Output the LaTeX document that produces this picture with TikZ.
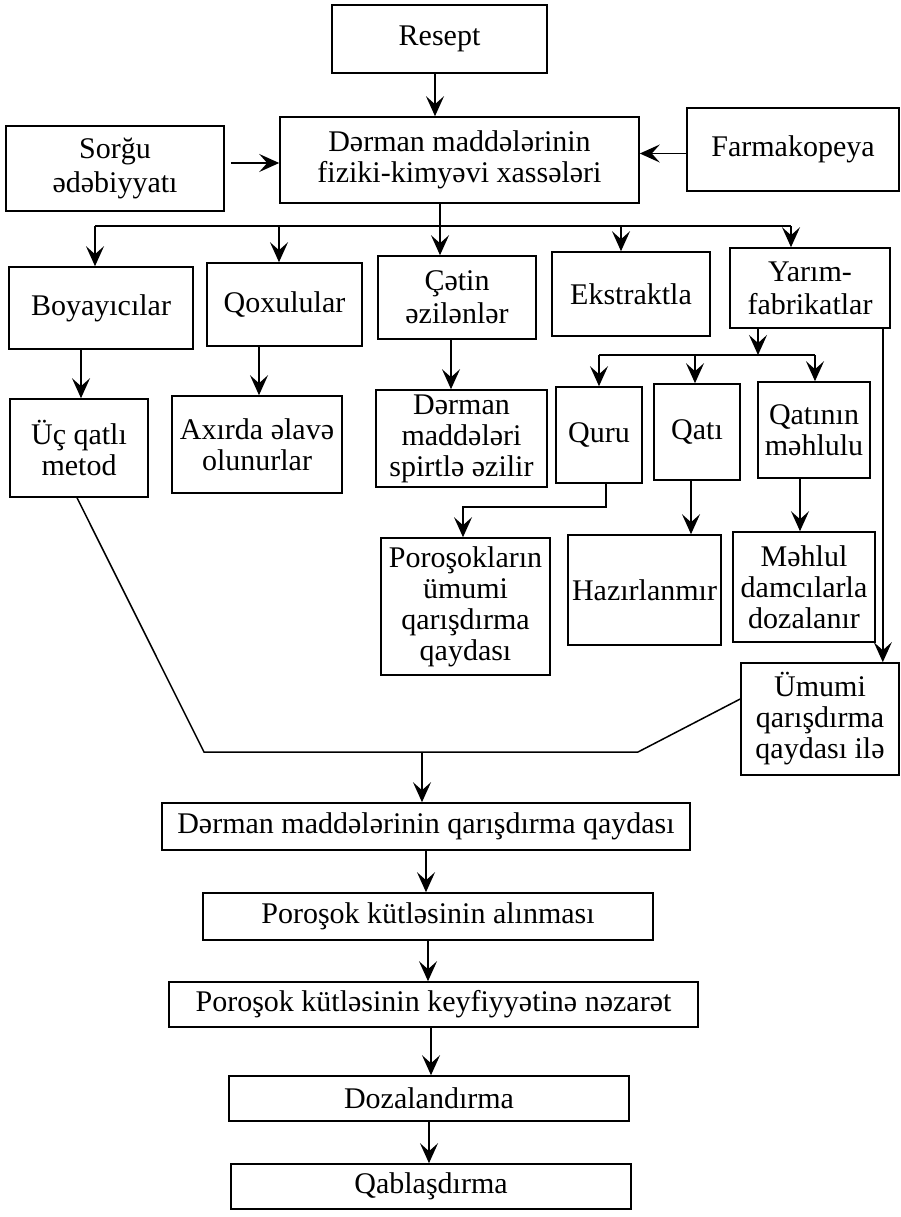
\documentclass[tikz,border=0pt]{standalone}
\usepackage{fontspec}
\setmainfont{Liberation Serif}
\usetikzlibrary{arrows.meta}
\begin{document}
\begin{tikzpicture}[x=1pt,y=-1pt,
  box/.style={draw, line width=1.6pt, align=center, inner sep=2pt, font=\fontsize{30}{31}\selectfont},
  arr/.style={draw, line width=1.5pt, -{Stealth[length=20pt,width=18pt,inset=8pt]}},
  ln/.style={draw, line width=1.5pt}]
\useasboundingbox (0,0) rectangle (901,1217);
% top
\node[box, minimum width=215pt, minimum height=68pt] (resept) at (439.5,39) {Resept};
\node[box, minimum width=359pt, minimum height=86pt] (main) at (459.5,160) {Dərman maddələrinin\\fiziki-kimyəvi xassələri};
\node[box, minimum width=218pt, minimum height=85pt] (sorgu) at (115,168.5) {Sorğu\\[3pt]ədəbiyyatı};
\node[box, minimum width=212pt, minimum height=83pt] (farm) at (793,149.5) {Farmakopeya};
% row 2
\node[box, minimum width=184pt, minimum height=82pt] (boy) at (101,308) {Boyayıcılar};
\node[box, minimum width=155pt, minimum height=83pt] (qox) at (284.5,304.5) {Qoxulular};
\node[box, minimum width=158pt, minimum height=83pt] (cetin) at (457,297.5) {Çətin\\[2pt]əzilənlər};
\node[box, minimum width=158pt, minimum height=84pt] (ekst) at (631,294) {Ekstraktla};
\node[box, minimum width=160pt, minimum height=80pt] (yarim) at (810,288) {Yarım-\\[2pt]fabrikatlar};
% row 3
\node[box, minimum width=138pt, minimum height=98pt] (uc) at (79,448) {Üç qatlı\\metod};
\node[box, minimum width=170pt, minimum height=97pt] (axr) at (257,444.5) {Axırda əlavə\\olunurlar};
\node[box, minimum width=171pt, minimum height=97pt] (dsp) at (461.5,438.5) {Dərman\\maddələri\\spirtlə əzilir};
\node[box, minimum width=86pt, minimum height=96pt] (quru) at (599,435) {Quru};
\node[box, minimum width=86pt, minimum height=96pt] (qati) at (697,432) {Qatı};
\node[box, minimum width=112pt, minimum height=96pt] (qm) at (814,430) {Qatının\\məhlulu};
% row 4
\node[box, minimum width=169pt, minimum height=137pt] (por) at (465.5,606.5) {Poroşokların\\ümumi\\qarışdırma\\qaydası};
\node[box, minimum width=153pt, minimum height=110pt] (haz) at (644.5,590) {Hazırlanmır};
\node[box, minimum width=142pt, minimum height=110pt] (mehlul) at (804,587) {Məhlul\\damcılarla\\dozalanır};
\node[box, minimum width=158pt, minimum height=112pt] (umumi) at (820,719) {Ümumi\\qarışdırma\\qaydası ilə};
% bottom chain
\node[box, minimum width=528pt, minimum height=47pt] (dmq) at (426,826.5) {Dərman maddələrinin qarışdırma qaydası};
\node[box, minimum width=450pt, minimum height=47pt] (pka) at (428,916.5) {Poroşok kütləsinin alınması};
\node[box, minimum width=529pt, minimum height=45pt] (keyf) at (433.5,1004.5) {Poroşok kütləsinin keyfiyyətinə nəzarət};
\node[box, minimum width=400pt, minimum height=45pt] (doz) at (429,1098.5) {Dozalandırma};
\node[box, minimum width=400pt, minimum height=45pt] (qab) at (431,1186.5) {Qablaşdırma};
% top connectors
\draw[arr] ([xshift=-4.5pt]resept.south) -- ([xshift=-4.5pt]resept.south |- main.north);
\draw[arr] ([yshift=5.5pt,xshift=6pt]sorgu.east) -- ([yshift=5.5pt]sorgu.east -| main.west);
\draw[arr] ([yshift=-4pt]farm.west) -- ([yshift=-4pt]farm.west -| main.east);
% branch from main
\coordinate (br) at (440,226);
\coordinate (b1) at (95,226);
\coordinate (b2) at (279,226);
\coordinate (b4) at (621,226);
\coordinate (b5) at (791,226);
\draw[ln] (main.south -| br) -- (br);
\draw[ln] (b1) -- (b5);
\draw[arr] (b1) -- (b1 |- boy.north);
\draw[arr] (b2) -- (b2 |- qox.north);
\draw[arr] (br) -- (br |- cetin.north);
\draw[arr] (b4) -- (b4 |- ekst.north);
\draw[arr] (b5) -- (b5 |- yarim.north);
% row 2 -> row 3
\draw[arr] ([xshift=-20pt]boy.south) -- ([xshift=-20pt]boy.south |- uc.north);
\draw[arr] ([xshift=-25.5pt]qox.south) -- ([xshift=-25.5pt]qox.south |- axr.north);
\draw[arr] ([xshift=-6pt]cetin.south) -- ([xshift=-6pt]cetin.south |- dsp.north);
% yarim sub-branch
\coordinate (yb) at (758,355);
\coordinate (s1) at (599,355);
\coordinate (s2) at (695,355);
\coordinate (s3) at (815,355);
\draw[arr] (yarim.south -| yb) -- (yb);
\draw[ln] (s1) -- (s3);
\draw[arr] (s1) -- (s1 |- quru.north);
\draw[arr] (s2) -- (s2 |- qati.north);
\draw[arr] (s3) -- (s3 |- qm.north);
% row 3 -> row 4
\coordinate (q1) at (606,507);
\draw[arr] (quru.south -| q1) -- (q1) -| ([xshift=-2.5pt]por.north);
\draw[arr] ([xshift=-6pt]qati.south) -- ([xshift=-6pt]qati.south |- haz.north);
\draw[arr] ([xshift=-14pt]qm.south) -- ([xshift=-14pt]qm.south |- mehlul.north);
\draw[arr] ([xshift=-8pt]yarim.south east) -- ([xshift=-8pt]yarim.south east |- umumi.north);
% merge into bottom chain
\coordinate (d1) at (204,752);
\coordinate (d2) at (638,752);
\coordinate (dm) at (422,752);
\draw[ln] ([xshift=-2pt]uc.south) -- (d1) -- (d2) -- ([yshift=20pt]umumi.west);
\draw[arr] (dm) -- (dm |- dmq.north);
\draw[arr] (dmq.south) -- (dmq.south |- pka.north);
\draw[arr] (pka.south) -- (pka.south |- keyf.north);
\draw[arr] ([xshift=-2.5pt]keyf.south) -- ([xshift=-2.5pt]keyf.south |- doz.north);
\draw[arr] (doz.south) -- (doz.south |- qab.north);
\end{tikzpicture}
\end{document}
